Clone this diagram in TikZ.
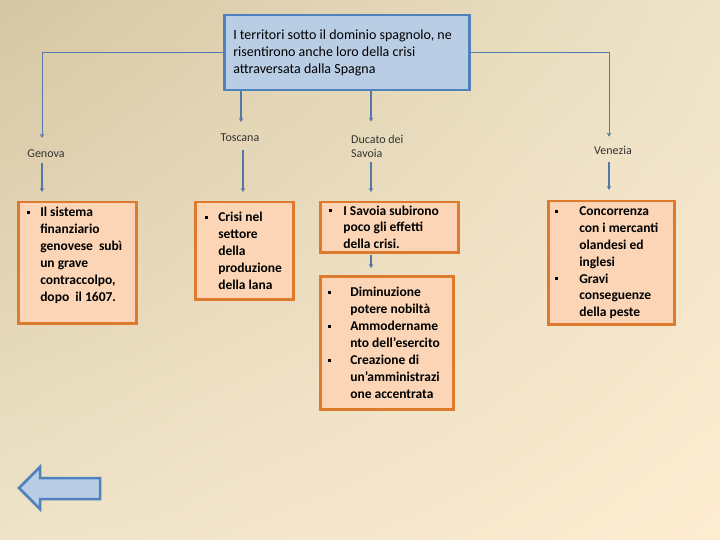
\documentclass[tikz,border=0pt]{standalone}
\usepackage{fontspec}
\setmainfont{Carlito}
\usetikzlibrary{arrows.meta,shadings}
\definecolor{bgdark}{RGB}{214,199,163}
\definecolor{bgmid}{RGB}{238,227,200}
\definecolor{bglight}{RGB}{253,236,208}
\definecolor{bluefill}{RGB}{185,205,229}
\definecolor{blueline}{RGB}{79,129,189}
\definecolor{peach}{RGB}{251,213,181}
\definecolor{orangeline}{RGB}{222,122,46}
\definecolor{linkcol}{RGB}{84,120,168}
\newcommand{\bul}{\raisebox{0.2em}{\rule{3pt}{3pt}}}
\newcommand{\bitem}[2]{\hangindent=#1\hangafter=1\noindent\makebox[#1][l]{\bul}#2\par}
\begin{document}
\begin{tikzpicture}[x=1pt,y=-1pt]
    \tikzstyle{every node}+=[inner sep=0pt]
    \tikzstyle{topbox}=[draw=blueline,fill=bluefill,line width=2.5pt,anchor=north west,font=\fontsize{14}{16.9}\selectfont]
    \tikzstyle{orbox}=[draw=orangeline,fill=peach,line width=2.5pt,anchor=north west,font=\bfseries\fontsize{13.5}{16.9}\selectfont]
    \tikzstyle{lbl}=[text=black!80,font=\fontsize{12}{14}\selectfont,align=left]
    \tikzstyle{link}=[draw=linkcol,line width=1pt,-{Stealth[length=4pt,width=4.5pt]}]
    \tikzstyle{thick link}=[link,line width=2pt]
    \useasboundingbox (0,0) rectangle (720,540);
    \shade[upper left=bgdark,upper right=bgmid,lower left=bgmid,lower right=bglight] (0,0) rectangle (720,540);
    \node [topbox,minimum width=245pt,minimum height=75pt,inner xsep=9pt] (top) at (223,14)
        {\parbox{227pt}{I territori sotto il dominio spagnolo, ne\\risentirono anche loro della crisi\\attraversata dalla Spagna}};
    \node [lbl] (genova) at (46,154) {Genova};
    \node [lbl] (toscana) at (240,138) {Toscana};
    \node [lbl,anchor=west] (ducato) at (351,146) {Ducato dei\\Savoia};
    \node [lbl] (venezia) at (613,150) {Venezia};
    \node [orbox,minimum width=118pt,minimum height=121pt,inner xsep=9pt] (genbox) at (17,201)
        {\parbox{100pt}{\bitem{13pt}{Il sistema\\finanziario\\genovese~ subì\\un grave\\contraccolpo,\\dopo~ il 1607.\\\mbox{}}}};
    \node [orbox,minimum width=98pt,minimum height=97pt,inner xsep=10pt] (tosbox) at (194,201)
        {\parbox{78pt}{\bitem{13pt}{Crisi nel\\settore\\della\\produzione\\della lana}}};
    \node [orbox,minimum width=138pt,minimum height=50pt,inner xsep=9pt] (savbox) at (319,201)
        {\parbox{120pt}{\bitem{14pt}{I Savoia subirono\\poco gli effetti\\della crisi.}}};
    \node [orbox,minimum width=133pt,minimum height=133pt,inner xsep=8pt] (riforme) at (319,275)
        {\parbox{117pt}{\bitem{22pt}{Diminuzione\\potere nobiltà}\bitem{22pt}{Ammodername\\nto dell’esercito}\bitem{22pt}{Creazione di\\un’amministrazi\\one accentrata}}};
    \node [orbox,minimum width=126pt,minimum height=123pt,inner xsep=7pt] (venbox) at (547,200)
        {\parbox{112pt}{\bitem{24pt}{Concorrenza\\con i mercanti\\olandesi ed\\inglesi}\bitem{24pt}{Gravi\\conseguenze\\della peste}}};
    \draw [link,shorten >=12pt] (top.west) -| ([xshift=-4pt]genova.north);
    \draw [link,shorten >=9pt] (top.east) -| ([xshift=-4pt]venezia.north);
    \draw [thick link,shorten >=12pt] ([xshift=1pt]toscana.north |- top.south) -- ([xshift=1pt]toscana.north);
    \draw [thick link,shorten >=13pt] ([xshift=20pt]ducato.west |- top.south) -- ([xshift=20pt]ducato.west |- ducato.north);
    \draw [thick link,shorten <=5pt,shorten >=9pt] ([xshift=-4pt]genova.south) -- ([xshift=-4pt]genova.south |- genbox.north);
    \draw [thick link,shorten <=8pt,shorten >=9pt] ([xshift=3pt]toscana.south) -- ([xshift=3pt]toscana.south |- tosbox.north);
    \draw [thick link,shorten <=5pt,shorten >=9pt] ([xshift=20pt]ducato.west |- ducato.south) -- ([xshift=20pt]ducato.west |- savbox.north);
    \draw [thick link,shorten <=1pt,shorten >=7pt] ([xshift=20pt]ducato.west |- savbox.south) -- ([xshift=20pt]ducato.west |- riforme.north);
    \draw [thick link,shorten <=8pt,shorten >=10pt] ([xshift=-4pt]venezia.south) -- ([xshift=-4pt]venezia.south |- venbox.north);
    \draw [draw=blueline,fill=bluefill,line width=2.5pt,line join=miter] (19,488) -- (40,467) -- (40,478) -- (100,478) -- (100,499) -- (40,499) -- (40,509) -- cycle;
\end{tikzpicture}
\end{document}
